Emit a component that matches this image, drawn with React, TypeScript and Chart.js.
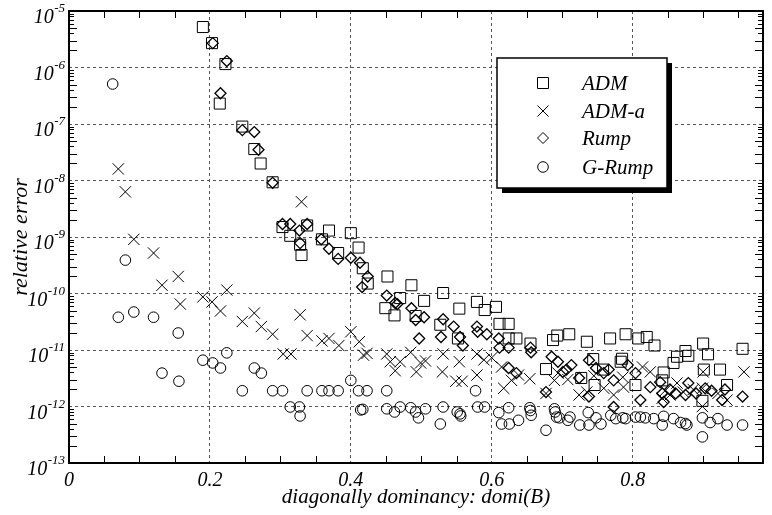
import React, { useEffect, useRef } from 'react';
import { Chart, registerables } from 'chart.js';

Chart.register(...registerables);

const seriesLabels = ['ADM', 'ADM-a', 'Rump', 'G-Rump'];

const admPoints: number[][] = [
  [0.190, 5.2e-6], [0.203, 2.7e-6], [0.222, 1.15e-6], [0.214, 2.3e-7], [0.246, 9.0e-8], [0.263, 3.6e-8],
  [0.272, 2.0e-8], [0.289, 9.3e-9], [0.303, 1.5e-9], [0.314, 1.05e-9], [0.338, 1.6e-9], [0.328, 7.3e-10],
  [0.330, 4.8e-10], [0.369, 1.3e-9], [0.400, 1.17e-9], [0.359, 9.1e-10], [0.382, 5.2e-10], [0.411, 6.5e-10],
  [0.417, 2.8e-10], [0.424, 1.5e-10], [0.452, 2.0e-10], [0.486, 1.4e-10], [0.504, 7.4e-11], [0.470, 8.3e-11],
  [0.449, 5.5e-11], [0.462, 4.1e-11], [0.492, 4.0e-11], [0.531, 1.02e-10], [0.554, 5.4e-11], [0.527, 2.8e-11],
  [0.552, 1.6e-11], [0.579, 7.1e-11], [0.590, 5.1e-11], [0.606, 5.8e-11], [0.611, 2.9e-11], [0.624, 2.9e-11],
  [0.624, 1.6e-11], [0.635, 1.6e-11], [0.655, 1.3e-11], [0.677, 4.6e-12], [0.693, 1.8e-11], [0.687, 1.5e-11],
  [0.710, 1.9e-11], [0.735, 1.4e-11], [0.768, 1.6e-11], [0.790, 1.9e-11], [0.808, 1.6e-11], [0.820, 1.7e-11],
  [0.831, 1.2e-11], [0.744, 6.9e-12], [0.785, 7.0e-12], [0.783, 6.2e-12], [0.758, 4.5e-12], [0.804, 2.4e-12],
  [0.746, 2.4e-12], [0.842, 2.9e-12], [0.858, 5.9e-12], [0.863, 7.6e-12], [0.875, 9.6e-12], [0.879, 7.9e-12],
  [0.900, 1.3e-11], [0.907, 8.4e-12], [0.901, 4.5e-12], [0.924, 4.5e-12], [0.934, 2.4e-12], [0.899, 1.26e-12],
  [0.956, 1.05e-11], [0.727, 3.2e-12], [0.844, 4.0e-12],
];

const admAPoints: number[][] = [
  [0.070, 1.6e-8], [0.080, 6.3e-9], [0.092, 9.1e-10], [0.120, 5.2e-10], [0.132, 1.4e-10], [0.155, 2.0e-10],
  [0.158, 6.5e-11], [0.190, 8.7e-11], [0.203, 7.1e-11], [0.224, 1.15e-10], [0.215, 4.9e-11], [0.246, 3.2e-11],
  [0.263, 4.5e-11], [0.273, 2.6e-11], [0.289, 1.9e-11], [0.304, 8.5e-12], [0.315, 8.5e-12], [0.328, 4.2e-11],
  [0.338, 1.8e-11], [0.359, 1.45e-11], [0.369, 1.6e-11], [0.383, 1.2e-11], [0.400, 2.1e-11], [0.412, 1.4e-11],
  [0.418, 8.1e-12], [0.423, 8.7e-12], [0.330, 4.2e-9], [0.451, 8.5e-12], [0.456, 6.2e-12], [0.463, 4.3e-12],
  [0.470, 6.2e-12], [0.485, 9.1e-12], [0.493, 4.1e-12], [0.499, 5.9e-12], [0.506, 6.4e-12], [0.531, 8.5e-12],
  [0.530, 4.1e-12], [0.554, 6.2e-12], [0.549, 2.8e-12], [0.558, 2.8e-12], [0.579, 8.5e-12], [0.579, 3.6e-12],
  [0.589, 6.7e-12], [0.600, 7.3e-12], [0.614, 5.0e-12], [0.617, 2.1e-12], [0.628, 2.9e-12], [0.638, 3.6e-12],
  [0.654, 3.1e-12], [0.677, 1.7e-12], [0.689, 2.9e-12], [0.694, 3.9e-12], [0.724, 1.6e-12], [0.735, 1.8e-12],
  [0.759, 2.1e-12], [0.773, 1.6e-12], [0.786, 3.3e-12], [0.787, 2.2e-12], [0.814, 5.0e-12], [0.825, 4.1e-12],
  [0.846, 1.9e-12], [0.863, 2.6e-12], [0.872, 1.8e-12], [0.899, 2.1e-12], [0.900, 4.1e-12], [0.899, 1.0e-12],
  [0.921, 1.7e-12], [0.958, 4.1e-12], [0.842, 1.4e-12], [0.934, 1.3e-12], [0.886, 2.0e-12], [0.853, 1.6e-12],
  [0.708, 3.0e-12], [0.745, 3.5e-12],
];

const rumpPoints: number[][] = [
  [0.204, 2.7e-6], [0.224, 1.3e-6], [0.215, 3.5e-7], [0.246, 7.8e-8], [0.263, 7.2e-8], [0.269, 3.5e-8],
  [0.289, 9.1e-9], [0.303, 1.7e-9], [0.314, 1.7e-9], [0.327, 1.3e-9], [0.338, 1.7e-9], [0.328, 7.8e-10],
  [0.358, 9.1e-10], [0.369, 6.2e-10], [0.382, 4.1e-10], [0.400, 4.3e-10], [0.413, 3.5e-10], [0.424, 2.0e-10],
  [0.416, 1.3e-10], [0.451, 9.2e-11], [0.466, 6.5e-11], [0.463, 6.8e-11], [0.486, 5.5e-11], [0.492, 3.4e-11],
  [0.504, 3.8e-11], [0.497, 1.6e-11], [0.531, 3.5e-11], [0.528, 1.7e-11], [0.546, 2.6e-11], [0.555, 1.7e-11],
  [0.559, 1.2e-11], [0.579, 2.6e-11], [0.580, 2.1e-11], [0.593, 1.9e-11], [0.610, 1.6e-11], [0.611, 1.1e-11],
  [0.624, 1.1e-11], [0.624, 4.8e-12], [0.635, 3.9e-12], [0.655, 1.1e-11], [0.656, 9.1e-12], [0.677, 1.8e-12],
  [0.685, 7.6e-12], [0.694, 6.2e-12], [0.701, 4.1e-12], [0.713, 5.4e-12], [0.724, 3.2e-12], [0.738, 6.6e-12],
  [0.738, 1.5e-12], [0.759, 3.9e-12], [0.773, 9.8e-13], [0.773, 2.9e-12], [0.793, 5.4e-12], [0.804, 3.9e-12],
  [0.811, 1.3e-12], [0.825, 2.2e-12], [0.844, 1.2e-12], [0.861, 1.7e-12], [0.875, 1.6e-12], [0.879, 2.6e-12],
  [0.903, 2.1e-12], [0.912, 1.9e-12], [0.927, 1.3e-12], [0.931, 2.0e-12], [0.956, 1.5e-12], [0.748, 4.8e-12],
  [0.766, 4.5e-12], [0.706, 4.5e-12], [0.842, 1.7e-12], [0.853, 2.0e-12], [0.839, 2.7e-12], [0.890, 1.7e-12],
];

const gRumpPoints: number[][] = [
  [0.062, 5.1e-7], [0.080, 3.9e-10], [0.070, 3.8e-11], [0.092, 4.7e-11], [0.120, 3.8e-11], [0.155, 2.0e-11],
  [0.132, 3.9e-12], [0.156, 2.8e-12], [0.190, 6.6e-12], [0.204, 5.9e-12], [0.215, 4.8e-12], [0.224, 8.9e-12],
  [0.263, 4.8e-12], [0.273, 3.9e-12], [0.246, 1.9e-12], [0.289, 1.9e-12], [0.303, 1.9e-12], [0.338, 1.9e-12],
  [0.359, 1.9e-12], [0.369, 1.9e-12], [0.382, 1.9e-12], [0.314, 9.8e-13], [0.327, 9.8e-13], [0.328, 6.8e-13],
  [0.400, 2.9e-12], [0.411, 1.9e-12], [0.423, 1.9e-12], [0.414, 8.7e-13], [0.417, 8.9e-13], [0.451, 1.9e-12],
  [0.577, 1.9e-12], [0.451, 9.1e-13], [0.462, 8.0e-13], [0.470, 9.8e-13], [0.485, 9.5e-13], [0.492, 8.0e-13],
  [0.496, 6.3e-13], [0.506, 9.1e-13], [0.531, 9.8e-13], [0.527, 4.9e-13], [0.551, 8.0e-13], [0.555, 7.4e-13],
  [0.556, 6.8e-13], [0.580, 9.8e-13], [0.590, 9.8e-13], [0.610, 7.8e-13], [0.614, 4.9e-13], [0.624, 9.5e-13],
  [0.625, 4.9e-13], [0.638, 5.7e-13], [0.654, 9.5e-13], [0.656, 7.0e-13], [0.677, 3.8e-13], [0.689, 9.1e-13],
  [0.692, 6.5e-13], [0.696, 6.3e-13], [0.708, 5.7e-13], [0.711, 6.5e-13], [0.725, 4.7e-13], [0.737, 7.8e-13],
  [0.738, 4.7e-13], [0.748, 6.3e-13], [0.755, 4.9e-13], [0.769, 7.0e-13], [0.776, 6.1e-13], [0.786, 6.3e-13],
  [0.790, 6.1e-13], [0.804, 6.5e-13], [0.811, 6.5e-13], [0.818, 6.3e-13], [0.830, 6.1e-13], [0.842, 4.7e-13],
  [0.844, 6.7e-13], [0.858, 6.1e-13], [0.868, 5.2e-13], [0.877, 4.7e-13], [0.899, 6.3e-13], [0.899, 2.9e-13],
  [0.910, 5.2e-13], [0.921, 6.1e-13], [0.934, 4.7e-13], [0.956, 4.7e-13], [0.690, 8.0e-13], [0.655, 8.5e-13],
  [0.875, 5.0e-13],
];

const xTickValues = [0, 0.2, 0.4, 0.6, 0.8];
const xTickLabels = ['0', '0.2', '0.4', '0.6', '0.8'];
const yTickExponents = [-13, -12, -11, -10, -9, -8, -7, -6, -5];
const yTickLabels = ['-13', '-12', '-11', '-10', '-9', '-8', '-7', '-6', '-5'];
const X_MIN = 0;
const X_MAX = 0.985;

const SERIF = '"Liberation Serif", "Times New Roman", serif';
const INK = '#000';

function drawMarker(ctx: CanvasRenderingContext2D, kind: string, x: number, y: number) {
  ctx.beginPath();
  if (kind === 'rect') {
    ctx.rect(x - 5.5, y - 5.5, 11, 11);
  } else if (kind === 'crossRot') {
    ctx.moveTo(x - 5.5, y - 5.5); ctx.lineTo(x + 5.5, y + 5.5);
    ctx.moveTo(x + 5.5, y - 5.5); ctx.lineTo(x - 5.5, y + 5.5);
  } else if (kind === 'rectRot') {
    ctx.moveTo(x, y - 5.5); ctx.lineTo(x + 5.5, y); ctx.lineTo(x, y + 5.5); ctx.lineTo(x - 5.5, y); ctx.closePath();
  } else {
    ctx.arc(x, y, 5.3, 0, Math.PI * 2);
  }
  ctx.stroke();
}

const pointKinds = ['rect', 'crossRot', 'rectRot', 'circle'];

const decorPlugin = {
  id: 'decor',
  afterDatasetsDraw(chart: any) {
    const { ctx, chartArea: a, scales } = chart;
    const xs = scales.x;
    const ys = scales.y;
    ctx.save();
    ctx.strokeStyle = '#000';
    ctx.lineWidth = 1;
    const seg = (x1: number, y1: number, x2: number, y2: number) => {
      ctx.beginPath(); ctx.moveTo(x1, y1); ctx.lineTo(x2, y2); ctx.stroke();
    };
    // minor x ticks every 0.05
    for (let i = 1; i * 0.05 < X_MAX; i++) {
      if (i % 4 === 0) continue;
      const px = Math.round(xs.getPixelForValue(i * 0.05)) + 0.5;
      seg(px, a.bottom, px, a.bottom - 7);
      seg(px, a.top, px, a.top + 7);
    }
    // minor y ticks (log)
    for (let e = -13; e < -5; e++) {
      for (let m = 2; m <= 9; m++) {
        const py = Math.round(ys.getPixelForValue(m * Math.pow(10, e))) + 0.5;
        const len = (m === 2 || m === 3 || m === 5) ? 8 : 5;
        seg(a.left, py, a.left + len, py);
        seg(a.right, py, a.right - len, py);
      }
    }
    // frame
    ctx.lineWidth = 2;
    ctx.strokeRect(a.left, a.top, a.right - a.left, a.bottom - a.top);

    // y tick labels 10^e
    ctx.fillStyle = '#000';
    ctx.textBaseline = 'middle';
    ctx.textAlign = 'right';
    yTickExponents.forEach((e, i) => {
      const py = ys.getPixelForValue(Math.pow(10, e));
      ctx.font = `italic 13px ${SERIF}`;
      const ex = yTickLabels[i];
      const ew = ctx.measureText(ex).width;
      ctx.fillText(ex, 65, py - 2);
      ctx.font = `italic 20px ${SERIF}`;
      ctx.fillText('10', 65 - ew - 0.5, py + 7);
    });

    // legend with shadow
    const lx = 497, ly = 58, lw = 170, lh = 130;
    ctx.fillStyle = '#000';
    ctx.fillRect(lx + 5, ly + 5, lw, lh);
    ctx.fillStyle = '#fff';
    ctx.fillRect(lx, ly, lw, lh);
    ctx.lineWidth = 1.5;
    ctx.strokeStyle = '#000';
    ctx.strokeRect(lx, ly, lw, lh);
    const rows = [83, 111, 138, 167];
    ctx.lineWidth = 1;
    ctx.strokeStyle = INK;
    ctx.textAlign = 'left';
    ctx.textBaseline = 'middle';
    ctx.fillStyle = '#000';
    ctx.font = `italic 21px ${SERIF}`;
    seriesLabels.forEach((lab, i) => {
      drawMarker(ctx, pointKinds[i], 543, rows[i]);
      ctx.fillText(lab, 582, rows[i] + 1);
    });
    ctx.restore();
  },
};

const toXY = (pts: number[][]) => pts.map((p) => ({ x: p[0], y: p[1] }));

export default function App() {
  const ref = useRef<HTMLCanvasElement | null>(null);
  useEffect(() => {
    if (!ref.current) return;
    const base = {
      showLine: false,
      borderColor: INK,
      backgroundColor: 'rgba(0,0,0,0)',
      pointBorderColor: INK,
      pointBackgroundColor: 'rgba(0,0,0,0)',
      pointBorderWidth: 1,
    };
    const chart = new Chart(ref.current, {
      type: 'scatter',
      data: {
        datasets: [
          { ...base, label: seriesLabels[0], data: toXY(admPoints), pointStyle: 'rect', pointRadius: 7.8 },
          { ...base, label: seriesLabels[1], data: toXY(admAPoints), pointStyle: 'crossRot', pointRadius: 8 },
          { ...base, label: seriesLabels[2], data: toXY(rumpPoints), pointStyle: 'rectRot', pointRadius: 5.5, pointBorderWidth: 1.3 },
          { ...base, label: seriesLabels[3], data: toXY(gRumpPoints), pointStyle: 'circle', pointRadius: 5.3 },
        ],
      },
      options: {
        responsive: false,
        devicePixelRatio: 1,
        animation: false,
        layout: { padding: { left: 0, right: 4, top: 11, bottom: 0 } },
        plugins: { legend: { display: false }, tooltip: { enabled: false } },
        scales: {
          x: {
            type: 'linear',
            min: X_MIN,
            max: X_MAX,
            afterBuildTicks: (s: any) => { s.ticks = xTickValues.map((v) => ({ value: v })); },
            afterFit: (s: any) => { s.height = 52; },
            ticks: {
              callback: (_v: any, i: number) => xTickLabels[i],
              color: '#000',
              font: { family: SERIF, style: 'italic', size: 20 },
              padding: 6,
              maxRotation: 0,
              autoSkip: false,
            },
            grid: { color: '#555', lineWidth: 1, drawTicks: false },
            border: { display: false, dash: [3, 3] },
            title: {
              display: true,
              text: 'diagonally dominancy: domi(B)',
              color: '#000',
              font: { family: SERIF, style: 'italic', size: 21 },
              padding: { top: 0, bottom: 5 },
            },
          },
          y: {
            type: 'logarithmic',
            min: 1e-13,
            max: 1e-5,
            afterBuildTicks: (s: any) => { s.ticks = yTickExponents.map((e) => ({ value: Math.pow(10, e) })); },
            afterFit: (s: any) => { s.width = 69; },
            ticks: { display: false },
            grid: { color: '#555', lineWidth: 1, drawTicks: false },
            border: { display: false, dash: [3, 3] },
            title: {
              display: true,
              text: 'relative error',
              color: '#000',
              font: { family: SERIF, style: 'italic', size: 22 },
              padding: { top: 8, bottom: 0 },
            },
          },
        },
      },
      plugins: [decorPlugin],
    } as any);
    return () => chart.destroy();
  }, []);
  return (
    <div style={{ position: 'absolute', left: 0, top: 0, width: 772, height: 515, background: '#fff' }}>
      <canvas ref={ref} width={772} height={515} style={{ display: 'block' }} />
    </div>
  );
}
